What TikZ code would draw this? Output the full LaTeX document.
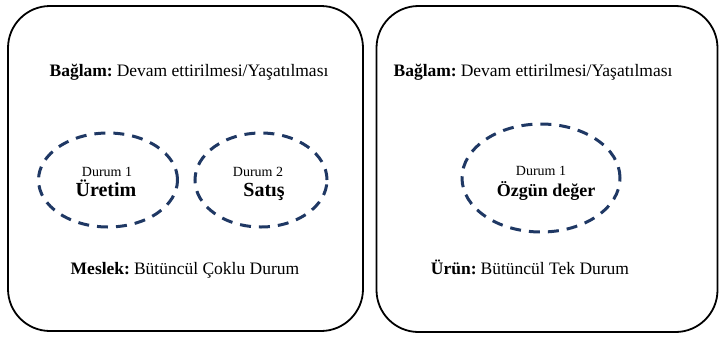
\documentclass[tikz,border=0pt]{standalone}
\usepackage{fontspec}
\setmainfont{Liberation Serif}
\usetikzlibrary{shapes.geometric}
\definecolor{navy}{RGB}{31,56,100}
\begin{document}
\begin{tikzpicture}[x=1pt,y=-1pt,
  panel/.style={draw=black,line width=1.8pt,rounded corners=42pt},
  casering/.style={draw=navy,line width=3pt,dash pattern=on 11pt off 8pt,ellipse,inner sep=0pt},
  headtext/.style={font=\fontsize{17.5}{20}\selectfont,anchor=base},
  small/.style={font=\fontsize{14}{16}\selectfont,anchor=base},
  big/.style={font=\fontsize{20}{23}\selectfont\bfseries,anchor=base},
  bigr/.style={font=\fontsize{18}{21}\selectfont\bfseries,anchor=base}]
\useasboundingbox (0,0) rectangle (720,338);
% panels
\node[panel,minimum width=355pt,minimum height=325pt] (left) at (185.5,168.5) {};
\node[panel,minimum width=341pt,minimum height=326pt] (right) at (547,169) {};
% ellipses
\node[casering,minimum width=139pt,minimum height=94pt] (e1) at (108,180) {};
\node[casering,minimum width=132pt,minimum height=94pt] (e2) at (261,180) {};
\node[casering,minimum width=158pt,minimum height=108pt] (e3) at (541,178) {};
% texts left
\node[headtext] (ctxL) at (189,76) {\textbf{Bağlam:}\hspace{4pt}Devam ettirilmesi/Yaşatılması};
\node[small] (d1) at (107,176) {Durum 1};
\node[big] (u) at (106,196) {Üretim};
\node[small] (d2) at (258,176) {Durum 2};
\node[big] (s) at (264,196) {Satış};
\node[headtext] (mes) at (185,274) {\textbf{Meslek:}\hspace{4pt}Bütüncül Çoklu Durum};
% texts right
\node[headtext] (ctxR) at (533,76) {\textbf{Bağlam:}\hspace{4pt}Devam ettirilmesi/Yaşatılması};
\node[small] (d3) at (541,175) {Durum 1};
\node[bigr] (oz) at (546,196) {Özgün değer};
\node[headtext] (urun) at (530,274) {\textbf{Ürün:}\hspace{4pt}Bütüncül Tek Durum};
\end{tikzpicture}
\end{document}
